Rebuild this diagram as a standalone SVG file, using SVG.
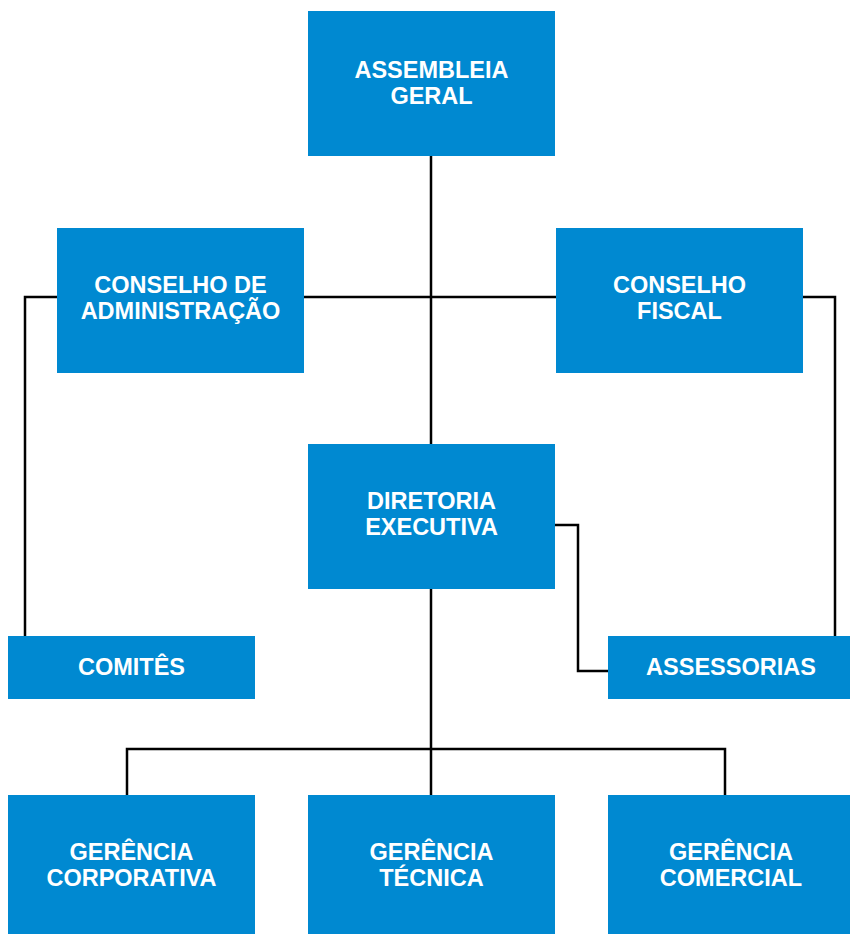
<svg xmlns="http://www.w3.org/2000/svg" width="850" height="934" viewBox="0 0 850 934">
<style>
.box{fill:#0089d1}
.t{fill:#fff;font-family:"Liberation Sans",Arial,sans-serif;font-weight:bold;font-size:23.5px;text-anchor:middle}
.ln{fill:none;stroke:#000;stroke-width:2.5}
</style>
<rect width="850" height="934" fill="#fff"/>
<g id="connectors">
<path class="ln" d="M431 156V444"/>
<path class="ln" d="M25 636V297H835V636"/>
<path class="ln" d="M555 525H578V671H608"/>
<path class="ln" d="M431 589V795"/>
<path class="ln" d="M127 795V749H725V795"/>
</g>
<g id="assembleia"><rect class="box" x="308" y="11" width="247" height="145"/><text class="t" x="431.5" y="78">ASSEMBLEIA</text><text class="t" x="431.5" y="104">GERAL</text></g>
<g id="conselho-adm"><rect class="box" x="57" y="228" width="247" height="145"/><text class="t" x="180.5" y="293">CONSELHO DE</text><text class="t" x="180.5" y="319">ADMINISTRAÇÃO</text></g>
<g id="conselho-fiscal"><rect class="box" x="556" y="228" width="247" height="145"/><text class="t" x="679.5" y="293">CONSELHO</text><text class="t" x="679.5" y="319">FISCAL</text></g>
<g id="diretoria"><rect class="box" x="308" y="444" width="247" height="145"/><text class="t" x="431.5" y="509">DIRETORIA</text><text class="t" x="431.5" y="535">EXECUTIVA</text></g>
<g id="comites"><rect class="box" x="8" y="636" width="247" height="63"/><text class="t" x="131.5" y="675">COMITÊS</text></g>
<g id="assessorias"><rect class="box" x="608" y="636" width="242" height="63"/><text class="t" x="731" y="675">ASSESSORIAS</text></g>
<g id="gerencia-corporativa"><rect class="box" x="8" y="795" width="247" height="139"/><text class="t" x="131.5" y="860">GERÊNCIA</text><text class="t" x="131.5" y="886">CORPORATIVA</text></g>
<g id="gerencia-tecnica"><rect class="box" x="308" y="795" width="247" height="139"/><text class="t" x="431.5" y="860">GERÊNCIA</text><text class="t" x="431.5" y="886">TÉCNICA</text></g>
<g id="gerencia-comercial"><rect class="box" x="608" y="795" width="242" height="139"/><text class="t" x="731" y="860">GERÊNCIA</text><text class="t" x="731" y="886">COMERCIAL</text></g>
</svg>
